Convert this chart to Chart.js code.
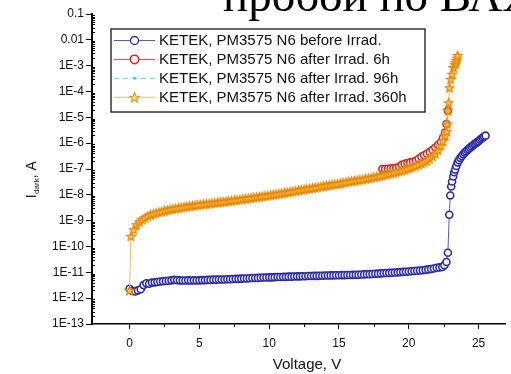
<!DOCTYPE html>
<html><head><meta charset="utf-8">
<script src="https://cdn.jsdelivr.net/npm/chart.js@4.4.0/dist/chart.umd.min.js"></script>
<style>html,body{margin:0;padding:0;background:#fff;overflow:hidden}#wrap{width:511px;height:374px;position:relative}</style>
</head><body><div id="wrap"><canvas id="c" width="511" height="374"></canvas></div>
<script>
// ---------- DATA ----------
const seriesLabels = [
  'KETEK, PM3575 N6 before Irrad.',
  'KETEK, PM3575 N6 after Irrad. 6h',
  'KETEK, PM3575 N6 after Irrad. 96h',
  'KETEK, PM3575 N6 after Irrad. 360h'
];
const beforeV = [0,0.2,0.4,0.6,0.8,1.0,1.2,1.4,1.6,1.8,2.0,2.2,2.4,2.6,2.8,3.0,3.2,3.4,3.6,3.8,4.0,4.2,4.4,4.6,4.8,5.0,5.2,5.4,5.6,5.8,6.0,6.2,6.4,6.6,6.8,7.0,7.2,7.4,7.6,7.8,8.0,8.2,8.4,8.6,8.8,9.0,9.2,9.4,9.6,9.8,10.0,10.2,10.4,10.6,10.8,11.0,11.2,11.4,11.6,11.8,12.0,12.2,12.4,12.6,12.8,13.0,13.2,13.4,13.6,13.8,14.0,14.2,14.4,14.6,14.8,15.0,15.2,15.4,15.6,15.8,16.0,16.2,16.4,16.6,16.8,17.0,17.2,17.4,17.6,17.8,18.0,18.2,18.4,18.6,18.8,19.0,19.2,19.4,19.6,19.8,20.0,20.2,20.4,20.6,20.8,21.0,21.2,21.4,21.6,21.8,22.0,22.2,22.4,22.55,22.7,22.8,22.9,22.97,23.04,23.1,23.18,23.25,23.32,23.4,23.5,23.6,23.7,23.8,23.9,24.0,24.1,24.2,24.3,24.4,24.5,24.6,24.7,24.8,24.9,25.0,25.1,25.2,25.3,25.4,25.5];
const beforeI = [2.3e-12,1.9e-12,1.8e-12,2.0e-12,2.2e-12,3.2e-12,3.8e-12,3.6e-12,4.0e-12,4.1e-12,4.2e-12,4.4e-12,4.5e-12,4.6e-12,4.7e-12,4.9e-12,5.1e-12,5.0e-12,4.9e-12,4.8e-12,4.8e-12,4.9e-12,4.8e-12,4.9e-12,4.8e-12,4.9e-12,5.0e-12,5.0e-12,5.1e-12,5.1e-12,5.2e-12,5.2e-12,5.3e-12,5.3e-12,5.3e-12,5.4e-12,5.4e-12,5.5e-12,5.6e-12,5.6e-12,5.7e-12,5.8e-12,5.8e-12,5.9e-12,6.0e-12,6.0e-12,6.1e-12,6.2e-12,6.3e-12,6.3e-12,6.4e-12,6.4e-12,6.5e-12,6.6e-12,6.6e-12,6.7e-12,6.7e-12,6.8e-12,6.8e-12,6.9e-12,7.0e-12,7.0e-12,7.1e-12,7.1e-12,7.2e-12,7.2e-12,7.3e-12,7.3e-12,7.4e-12,7.4e-12,7.5e-12,7.5e-12,7.6e-12,7.6e-12,7.7e-12,7.7e-12,7.8e-12,7.8e-12,7.9e-12,7.9e-12,8.0e-12,8.0e-12,8.1e-12,8.2e-12,8.3e-12,8.4e-12,8.5e-12,8.6e-12,8.8e-12,8.9e-12,9.1e-12,9.2e-12,9.4e-12,9.5e-12,9.7e-12,9.8e-12,1.0e-11,1.02e-11,1.04e-11,1.06e-11,1.08e-11,1.1e-11,1.12e-11,1.15e-11,1.18e-11,1.2e-11,1.25e-11,1.3e-11,1.35e-11,1.4e-11,1.5e-11,1.55e-11,1.6e-11,1.9e-11,2.5e-11,5.7e-11,1.7e-9,9.4e-9,2.1e-8,3.3e-8,5.1e-8,7.5e-8,9.5e-8,1.3e-7,1.8e-7,2.2e-7,2.7e-7,3.2e-7,3.7e-7,4.3e-7,4.8e-7,5.4e-7,6.0e-7,6.7e-7,7.5e-7,8.3e-7,9.2e-7,1.0e-6,1.1e-6,1.2e-6,1.35e-6,1.5e-6,1.65e-6,1.8e-6,1.95e-6];

const h6V = [18.1,18.3,18.5,18.7,18.9,19.1,19.3,19.5,19.7,19.9,20.1,20.3,20.5,20.7,20.9,21.1,21.3,21.5,21.7,21.9,22.1,22.3,22.45,22.6,22.7,22.8];
const h6I = [1.0e-7,1.0e-7,1.02e-7,1.05e-7,1.08e-7,1.12e-7,1.2e-7,1.45e-7,1.6e-7,1.7e-7,1.8e-7,1.9e-7,2.1e-7,2.5e-7,3.0e-7,3.4e-7,3.9e-7,4.6e-7,5.5e-7,6.8e-7,8.6e-7,1.1e-6,1.6e-6,2.6e-6,5.5e-6,1.8e-5];

const h96V = [0.1,0.5,1,1.5,2,3,4,5,6,7,8,9,10,11,12,13,14,15,16,17,18,19,20,21,21.5,22,22.4,22.6,22.8];
const h96I = [2.4e-10,6.8e-10,1.2e-9,1.65e-9,2.05e-9,2.8e-9,3.4e-9,4.1e-9,4.8e-9,5.6e-9,6.6e-9,7.9e-9,9.5e-9,1.15e-8,1.42e-8,1.78e-8,2.2e-8,2.7e-8,3.4e-8,4.2e-8,5.4e-8,7.3e-8,1.05e-7,1.7e-7,2.4e-7,4.5e-7,1.0e-6,1.9e-6,1.5e-5];

const h360V = [0,0.1,0.3,0.5,0.7,0.9,1.1,1.3,1.5,1.7,1.9,2.1,2.3,2.5,2.7,2.9,3.1,3.3,3.5,3.7,3.9,4.1,4.3,4.5,4.7,4.9,5.1,5.3,5.5,5.7,5.9,6.1,6.3,6.5,6.7,6.9,7.1,7.3,7.5,7.7,7.9,8.1,8.3,8.5,8.7,8.9,9.1,9.3,9.5,9.7,9.9,10.1,10.3,10.5,10.7,10.9,11.1,11.3,11.5,11.7,11.9,12.1,12.3,12.5,12.7,12.9,13.1,13.3,13.5,13.7,13.9,14.1,14.3,14.5,14.7,14.9,15.1,15.3,15.5,15.7,15.9,16.1,16.3,16.5,16.7,16.9,17.1,17.3,17.5,17.7,17.9,18.1,18.3,18.5,18.7,18.9,19.1,19.3,19.5,19.7,19.9,20.1,20.3,20.5,20.7,20.9,21.1,21.3,21.5,21.7,21.9,22.1,22.3,22.45,22.6,22.7,22.75,22.8,22.85,22.92,23.0,23.1,23.2,23.3,23.35,23.4,23.45,23.5];
const h360I = [2.0e-12,2.5e-10,4.5e-10,7.0e-10,9.0e-10,1.1e-9,1.3e-9,1.5e-9,1.7e-9,1.85e-9,2.0e-9,2.15e-9,2.3e-9,2.45e-9,2.6e-9,2.75e-9,2.9e-9,3.0e-9,3.15e-9,3.3e-9,3.4e-9,3.55e-9,3.7e-9,3.8e-9,3.95e-9,4.1e-9,4.25e-9,4.35e-9,4.5e-9,4.65e-9,4.8e-9,4.95e-9,5.1e-9,5.3e-9,5.45e-9,5.6e-9,5.8e-9,6.0e-9,6.2e-9,6.4e-9,6.6e-9,6.85e-9,7.1e-9,7.35e-9,7.6e-9,7.9e-9,8.2e-9,8.5e-9,8.8e-9,9.2e-9,9.5e-9,9.9e-9,1.03e-8,1.07e-8,1.11e-8,1.16e-8,1.21e-8,1.26e-8,1.31e-8,1.37e-8,1.43e-8,1.5e-8,1.56e-8,1.63e-8,1.7e-8,1.77e-8,1.85e-8,1.93e-8,2.0e-8,2.1e-8,2.2e-8,2.3e-8,2.4e-8,2.5e-8,2.6e-8,2.7e-8,2.8e-8,2.95e-8,3.1e-8,3.25e-8,3.4e-8,3.55e-8,3.7e-8,3.85e-8,4.0e-8,4.2e-8,4.4e-8,4.6e-8,4.85e-8,5.1e-8,5.4e-8,5.7e-8,6.0e-8,6.4e-8,6.8e-8,7.2e-8,7.7e-8,8.2e-8,8.8e-8,9.5e-8,1.03e-7,1.12e-7,1.22e-7,1.34e-7,1.48e-7,1.65e-7,1.85e-7,2.1e-7,2.5e-7,3.1e-7,4.0e-7,5.4e-7,8.0e-7,1.2e-6,2.0e-6,2.8e-6,5.5e-6,1.8e-5,3.7e-5,1.4e-4,3.0e-4,4.7e-4,8.5e-4,1.1e-3,1.3e-3,1.6e-3,2.0e-3,2.5e-3];

const xTickValues = [0,5,10,15,20,25];
const xMinorValues = [2.5,7.5,12.5,17.5,22.5];
const yTickValues = [1e-13,1e-12,1e-11,1e-10,1e-9,1e-8,1e-7,1e-6,1e-5,1e-4,1e-3,1e-2,1e-1];
const yTickLabels = ['1E-13','1E-12','1E-11','1E-10','1E-9','1E-8','1E-7','1E-6','1E-5','1E-4','1E-3','0.01','0.1'];
const chartTitle = 'пробой по ВАХ';
const xTitle = 'Voltage, V';

// ---------- helpers ----------
const pts = (xs, ys) => xs.map((x, i) => ({x, y: ys[i]}));
function makeStar(r, stroke, fill, lw) {
  const s = Math.ceil(2 * r + 3);
  const cv = document.createElement('canvas'); cv.width = s; cv.height = s;
  const c = cv.getContext('2d');
  c.translate(s / 2, s / 2 + 0.5);
  c.beginPath();
  for (let i = 0; i < 10; i++) {
    const rr = i % 2 === 0 ? r : r * 0.45;
    const a = -Math.PI / 2 + i * Math.PI / 5;
    const px = rr * Math.cos(a), py = rr * Math.sin(a);
    i === 0 ? c.moveTo(px, py) : c.lineTo(px, py);
  }
  c.closePath();
  c.fillStyle = fill; c.fill();
  c.lineWidth = lw; c.strokeStyle = stroke; c.stroke();
  return cv;
}
const starImg = makeStar(4.6, '#e98600', '#f7c458', 1.2);
const starLegend = makeStar(5, '#ec9200', '#fde3a0', 1.1);

const FONT = '"Liberation Sans", Arial, sans-serif';

const datasets = [
  { label: seriesLabels[0], data: pts(beforeV, beforeI), borderColor: '#5656c4', borderWidth: 1,
    pointStyle: 'circle', pointRadius: 3.5, pointBorderColor: '#2a2aac', pointBackgroundColor: '#ffffff', pointBorderWidth: 1.6, order: 4 },
  { label: seriesLabels[1], data: pts(h6V, h6I), borderColor: '#c85050', borderWidth: 1,
    pointStyle: 'circle', pointRadius: 3.5, pointBorderColor: '#cc2a2a', pointBackgroundColor: '#ffffff', pointBorderWidth: 1.6, order: 3 },
  { label: seriesLabels[2], data: pts(h96V, h96I), borderColor: '#55d8e8', borderWidth: 1, borderDash: [5, 4],
    pointStyle: 'circle', pointRadius: 1.5, pointBorderColor: '#3cc8e0', pointBackgroundColor: '#3cc8e0', pointBorderWidth: 0, order: 2 },
  { label: seriesLabels[3], data: pts(h360V, h360I), borderColor: '#f0bb66', borderWidth: 1,
    pointStyle: starImg, pointRadius: 4.6, order: 1 }
];
const legendMarkers = [
  {type: 'circle', r: 4, stroke: '#2c2cae', fill: '#fff', lw: 1.3, line: '#5656c4', dash: []},
  {type: 'circle', r: 4.2, stroke: '#cc2a2a', fill: '#fff', lw: 1.6, line: '#c85050', dash: []},
  {type: 'dot', r: 1.5, stroke: '#3cc8e0', fill: '#3cc8e0', lw: 0, line: '#55d8e8', dash: [5, 4]},
  {type: 'star', line: '#f0bb66', dash: []}
];

const decorPlugin = {
  id: 'decor',
  afterDraw(chart) {
    const ctx = chart.ctx, xs = chart.scales.x, ys = chart.scales.y, ca = chart.chartArea;
    ctx.save();
    ctx.strokeStyle = '#000'; ctx.lineWidth = 1;
    for (let d = -13; d < -1; d++) {
      for (let k = 2; k <= 9; k++) {
        const py = Math.round(ys.getPixelForValue(k * Math.pow(10, d))) + 0.5;
        ctx.beginPath(); ctx.moveTo(ca.left, py); ctx.lineTo(ca.left + 3, py); ctx.stroke();
      }
    }
    xMinorValues.forEach(v => {
      const px = Math.round(xs.getPixelForValue(v)) + 0.5;
      ctx.beginPath(); ctx.moveTo(px, ca.bottom); ctx.lineTo(px, ca.bottom + 3); ctx.stroke();
    });
    ctx.fillStyle = '#000';
    ctx.font = '47px "Liberation Serif", "Times New Roman", serif';
    ctx.textBaseline = 'alphabetic'; ctx.textAlign = 'left';
    ctx.fillText(chartTitle, 223, 11);
    ctx.font = '15px ' + FONT; ctx.textAlign = 'center'; ctx.textBaseline = 'middle';
    ctx.fillStyle = '#111';
    ctx.fillText(xTitle, 307, 365);
    ctx.save();
    ctx.translate(31, 180); ctx.rotate(-Math.PI / 2);
    ctx.textAlign = 'left'; ctx.textBaseline = 'alphabetic';
    const f1 = '14px ' + FONT, f2 = '8px ' + FONT;
    ctx.font = f1; const w1 = ctx.measureText('I').width, w3 = ctx.measureText(', A').width;
    ctx.font = f2; const w2 = ctx.measureText('dark').width;
    let x0 = -(w1 + w2 + w3) / 2;
    ctx.font = f1; ctx.fillText('I', x0, 5);
    ctx.font = f2; ctx.fillText('dark', x0 + w1 + 0.5, 8);
    ctx.font = f1; ctx.fillText(', A', x0 + w1 + w2 + 0.5, 5);
    ctx.restore();
    const bx = 111, by = 29, bw = 314, bh = 83;
    ctx.fillStyle = '#fff'; ctx.fillRect(bx, by, bw, bh);
    ctx.strokeStyle = '#333'; ctx.lineWidth = 1.5; ctx.strokeRect(bx, by, bw, bh);
    chart.data.datasets.forEach((ds, i) => {
      const m = legendMarkers[i];
      const yy = 40.5 + i * 18.9;
      ctx.strokeStyle = m.line; ctx.lineWidth = 1; ctx.setLineDash(m.dash);
      ctx.beginPath(); ctx.moveTo(114, yy); ctx.lineTo(155, yy); ctx.stroke();
      ctx.setLineDash([]);
      const cx = 134.5;
      if (m.type === 'star') {
        ctx.drawImage(starLegend, cx - starLegend.width / 2, yy - starLegend.height / 2);
      } else {
        ctx.beginPath(); ctx.arc(cx, yy, m.r, 0, Math.PI * 2);
        ctx.fillStyle = m.fill; ctx.fill();
        if (m.lw) { ctx.lineWidth = m.lw; ctx.strokeStyle = m.stroke; ctx.stroke(); }
      }
      ctx.fillStyle = '#111'; ctx.font = '15px ' + FONT;
      ctx.textAlign = 'left'; ctx.textBaseline = 'middle';
      ctx.fillText(ds.label, 159, yy + 0.5);
    });
    ctx.restore();
  }
};

new Chart(document.getElementById('c'), {
  type: 'line',
  data: { datasets },
  options: {
    responsive: false, animation: false, devicePixelRatio: 1,
    layout: { padding: { top: 14, right: 0, bottom: 0, left: 0 } },
    plugins: { legend: { display: false }, tooltip: { enabled: false }, title: { display: false } },
    elements: { line: { tension: 0 } },
    scales: {
      x: {
        type: 'linear', min: -2.69, max: 26.92,
        afterBuildTicks: s => { s.ticks = xTickValues.map(v => ({ value: v })); },
        afterFit: s => { s.height = 50; },
        ticks: { font: { family: FONT, size: 12 }, color: '#111', padding: 7, maxRotation: 0, autoSkip: false },
        grid: { display: true, drawOnChartArea: false, drawTicks: true, tickLength: 5, color: '#000', lineWidth: 1 },
        border: { display: true, color: '#000', width: 1.5 }
      },
      y: {
        type: 'logarithmic', min: 1e-13, max: 0.1,
        afterBuildTicks: s => { s.ticks = yTickValues.map(v => ({ value: v })); },
        afterFit: s => { s.width = 92; },
        ticks: { font: { family: FONT, size: 12 }, color: '#111', padding: 2, autoSkip: false,
          callback: (v, i) => yTickLabels[i] },
        grid: { display: true, drawOnChartArea: false, drawTicks: true, tickLength: 6, color: '#000', lineWidth: 1 },
        border: { display: true, color: '#000', width: 2 }
      }
    }
  },
  plugins: [decorPlugin]
});
</script></body></html>
